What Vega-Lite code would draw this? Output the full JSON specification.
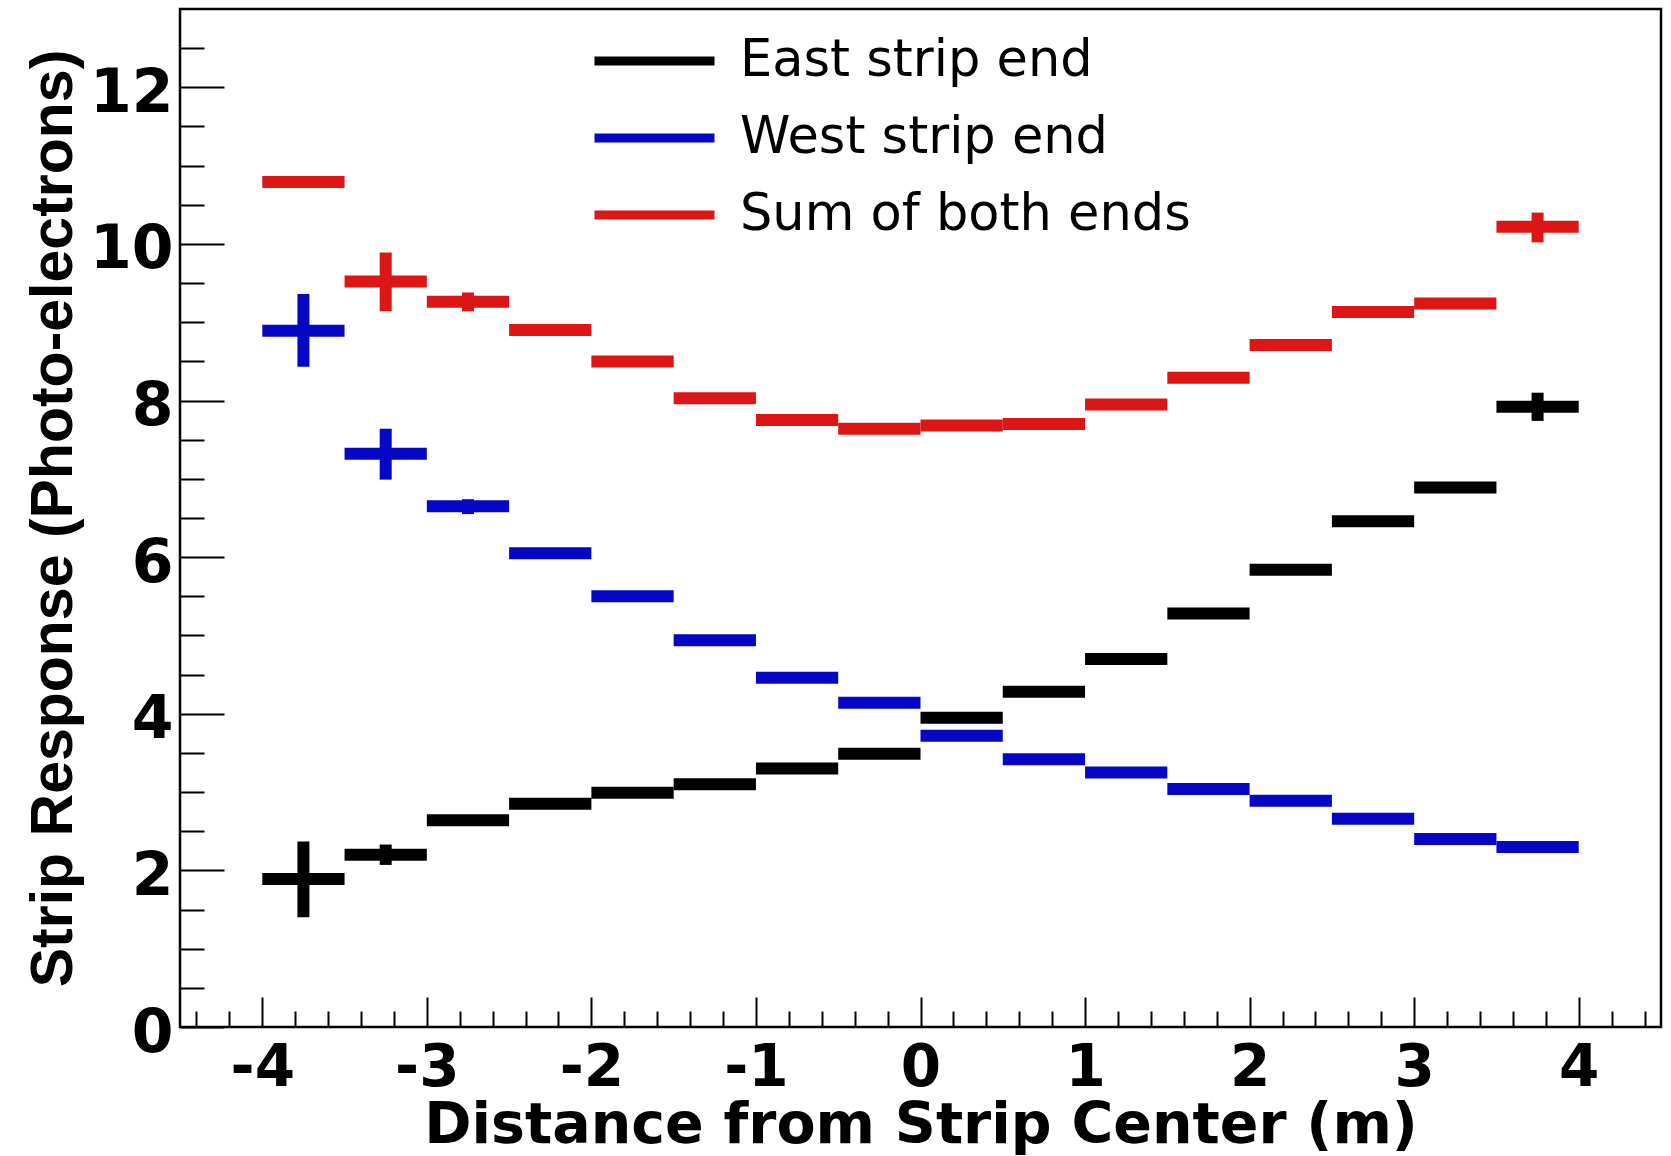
{
  "$schema": "https://vega.github.io/schema/vega-lite/v6.json",
  "autosize": {"type": "none"},
  "padding": {"left": 180, "top": 9, "right": 10, "bottom": 129},
  "width": 1481,
  "height": 1018,
  "background": "white",
  "config": {
    "view": {"stroke": "black", "strokeWidth": 2.5},
    "axis": {"grid": false, "domain": false, "tickColor": "black", "tickWidth": 2, "labelColor": "black", "titleColor": "black"}
  },
  "data": {
    "values": [
      {"s": "East strip end", "x": -3.75, "x1": -4.0, "x2": -3.5, "y": 1.89, "lo": 1.40, "hi": 2.37},
      {"s": "East strip end", "x": -3.25, "x1": -3.5, "x2": -3.0, "y": 2.20, "lo": 2.07, "hi": 2.33},
      {"s": "East strip end", "x": -2.75, "x1": -3.0, "x2": -2.5, "y": 2.64, "lo": 2.64, "hi": 2.64},
      {"s": "East strip end", "x": -2.25, "x1": -2.5, "x2": -2.0, "y": 2.85, "lo": 2.85, "hi": 2.85},
      {"s": "East strip end", "x": -1.75, "x1": -2.0, "x2": -1.5, "y": 2.99, "lo": 2.99, "hi": 2.99},
      {"s": "East strip end", "x": -1.25, "x1": -1.5, "x2": -1.0, "y": 3.10, "lo": 3.10, "hi": 3.10},
      {"s": "East strip end", "x": -0.75, "x1": -1.0, "x2": -0.5, "y": 3.30, "lo": 3.30, "hi": 3.30},
      {"s": "East strip end", "x": -0.25, "x1": -0.5, "x2": 0.0, "y": 3.49, "lo": 3.49, "hi": 3.49},
      {"s": "East strip end", "x": 0.25, "x1": 0.0, "x2": 0.5, "y": 3.95, "lo": 3.95, "hi": 3.95},
      {"s": "East strip end", "x": 0.75, "x1": 0.5, "x2": 1.0, "y": 4.28, "lo": 4.28, "hi": 4.28},
      {"s": "East strip end", "x": 1.25, "x1": 1.0, "x2": 1.5, "y": 4.70, "lo": 4.70, "hi": 4.70},
      {"s": "East strip end", "x": 1.75, "x1": 1.5, "x2": 2.0, "y": 5.28, "lo": 5.28, "hi": 5.28},
      {"s": "East strip end", "x": 2.25, "x1": 2.0, "x2": 2.5, "y": 5.84, "lo": 5.84, "hi": 5.84},
      {"s": "East strip end", "x": 2.75, "x1": 2.5, "x2": 3.0, "y": 6.46, "lo": 6.46, "hi": 6.46},
      {"s": "East strip end", "x": 3.25, "x1": 3.0, "x2": 3.5, "y": 6.89, "lo": 6.89, "hi": 6.89},
      {"s": "East strip end", "x": 3.75, "x1": 3.5, "x2": 4.0, "y": 7.92, "lo": 7.74, "hi": 8.10},
      {"s": "West strip end", "x": -3.75, "x1": -4.0, "x2": -3.5, "y": 8.89, "lo": 8.43, "hi": 9.36},
      {"s": "West strip end", "x": -3.25, "x1": -3.5, "x2": -3.0, "y": 7.32, "lo": 6.99, "hi": 7.64},
      {"s": "West strip end", "x": -2.75, "x1": -3.0, "x2": -2.5, "y": 6.65, "lo": 6.55, "hi": 6.74},
      {"s": "West strip end", "x": -2.25, "x1": -2.5, "x2": -2.0, "y": 6.05, "lo": 6.05, "hi": 6.05},
      {"s": "West strip end", "x": -1.75, "x1": -2.0, "x2": -1.5, "y": 5.50, "lo": 5.50, "hi": 5.50},
      {"s": "West strip end", "x": -1.25, "x1": -1.5, "x2": -1.0, "y": 4.94, "lo": 4.94, "hi": 4.94},
      {"s": "West strip end", "x": -0.75, "x1": -1.0, "x2": -0.5, "y": 4.46, "lo": 4.46, "hi": 4.46},
      {"s": "West strip end", "x": -0.25, "x1": -0.5, "x2": 0.0, "y": 4.14, "lo": 4.14, "hi": 4.14},
      {"s": "West strip end", "x": 0.25, "x1": 0.0, "x2": 0.5, "y": 3.72, "lo": 3.72, "hi": 3.72},
      {"s": "West strip end", "x": 0.75, "x1": 0.5, "x2": 1.0, "y": 3.42, "lo": 3.42, "hi": 3.42},
      {"s": "West strip end", "x": 1.25, "x1": 1.0, "x2": 1.5, "y": 3.25, "lo": 3.25, "hi": 3.25},
      {"s": "West strip end", "x": 1.75, "x1": 1.5, "x2": 2.0, "y": 3.04, "lo": 3.04, "hi": 3.04},
      {"s": "West strip end", "x": 2.25, "x1": 2.0, "x2": 2.5, "y": 2.89, "lo": 2.89, "hi": 2.89},
      {"s": "West strip end", "x": 2.75, "x1": 2.5, "x2": 3.0, "y": 2.66, "lo": 2.66, "hi": 2.66},
      {"s": "West strip end", "x": 3.25, "x1": 3.0, "x2": 3.5, "y": 2.40, "lo": 2.40, "hi": 2.40},
      {"s": "West strip end", "x": 3.75, "x1": 3.5, "x2": 4.0, "y": 2.30, "lo": 2.30, "hi": 2.30},
      {"s": "Sum of both ends", "x": -3.75, "x1": -4.0, "x2": -3.5, "y": 10.79, "lo": 10.79, "hi": 10.79},
      {"s": "Sum of both ends", "x": -3.25, "x1": -3.5, "x2": -3.0, "y": 9.52, "lo": 9.14, "hi": 9.89},
      {"s": "Sum of both ends", "x": -2.75, "x1": -3.0, "x2": -2.5, "y": 9.26, "lo": 9.14, "hi": 9.38},
      {"s": "Sum of both ends", "x": -2.25, "x1": -2.5, "x2": -2.0, "y": 8.90, "lo": 8.90, "hi": 8.90},
      {"s": "Sum of both ends", "x": -1.75, "x1": -2.0, "x2": -1.5, "y": 8.50, "lo": 8.50, "hi": 8.50},
      {"s": "Sum of both ends", "x": -1.25, "x1": -1.5, "x2": -1.0, "y": 8.03, "lo": 8.03, "hi": 8.03},
      {"s": "Sum of both ends", "x": -0.75, "x1": -1.0, "x2": -0.5, "y": 7.75, "lo": 7.75, "hi": 7.75},
      {"s": "Sum of both ends", "x": -0.25, "x1": -0.5, "x2": 0.0, "y": 7.64, "lo": 7.64, "hi": 7.64},
      {"s": "Sum of both ends", "x": 0.25, "x1": 0.0, "x2": 0.5, "y": 7.68, "lo": 7.68, "hi": 7.68},
      {"s": "Sum of both ends", "x": 0.75, "x1": 0.5, "x2": 1.0, "y": 7.70, "lo": 7.70, "hi": 7.70},
      {"s": "Sum of both ends", "x": 1.25, "x1": 1.0, "x2": 1.5, "y": 7.95, "lo": 7.95, "hi": 7.95},
      {"s": "Sum of both ends", "x": 1.75, "x1": 1.5, "x2": 2.0, "y": 8.29, "lo": 8.29, "hi": 8.29},
      {"s": "Sum of both ends", "x": 2.25, "x1": 2.0, "x2": 2.5, "y": 8.71, "lo": 8.71, "hi": 8.71},
      {"s": "Sum of both ends", "x": 2.75, "x1": 2.5, "x2": 3.0, "y": 9.13, "lo": 9.13, "hi": 9.13},
      {"s": "Sum of both ends", "x": 3.25, "x1": 3.0, "x2": 3.5, "y": 9.24, "lo": 9.24, "hi": 9.24},
      {"s": "Sum of both ends", "x": 3.75, "x1": 3.5, "x2": 4.0, "y": 10.22, "lo": 10.02, "hi": 10.40}
    ]
  },
  "layer": [
    {
      "mark": {"type": "rule", "strokeWidth": 12, "strokeCap": "butt"},
      "encoding": {
        "x": {
          "field": "x1", "type": "quantitative",
          "scale": {"domain": [-4.5, 4.5], "nice": false, "zero": false},
          "axis": {
            "orient": "bottom",
            "values": [-4, -3, -2, -1, 0, 1, 2, 3, 4],
            "tickSize": -30,
            "labelPadding": 42,
            "labelExpr": "'' + datum.value",
            "labelFont": "DejaVu Sans", "labelFontWeight": "bold", "labelFontSize": 58,
            "labelFlush": false, "labelOverlap": false,
            "title": "Distance from Strip Center (m)",
            "titleFont": "DejaVu Sans", "titleFontWeight": "bold", "titleFontSize": 57,
            "titlePadding": 0
          }
        },
        "x2": {"field": "x2"},
        "y": {
          "field": "y", "type": "quantitative",
          "scale": {"domain": [0, 13], "nice": false, "zero": false},
          "axis": {
            "orient": "left",
            "values": [0, 2, 4, 6, 8, 10, 12],
            "tickSize": -44,
            "labelPadding": 51,
            "labelOffset": 6,
            "labelExpr": "'' + datum.value",
            "labelFont": "DejaVu Sans", "labelFontWeight": "bold", "labelFontSize": 60,
            "labelFlush": false, "labelOverlap": false,
            "title": "Strip Response (Photo-electrons)",
            "titleFont": "Liberation Sans", "titleFontWeight": "bold", "titleFontSize": 59,
            "titlePadding": 6
          }
        },
        "color": {
          "field": "s", "type": "nominal",
          "scale": {"domain": ["East strip end", "West strip end", "Sum of both ends"], "range": ["#000000", "#0606c6", "#dc1515"]},
          "legend": {
            "orient": "none", "legendX": 440, "legendY": 17.5,
            "title": null, "padding": 0,
            "symbolType": "M-2,0H2", "symbolSize": 3600, "symbolStrokeWidth": 9,
            "labelFont": "DejaVu Sans", "labelFontSize": 51, "labelColor": "black",
            "labelOffset": 51, "rowPadding": 17, "labelLimit": 0
          }
        }
      }
    },
    {
      "mark": {"type": "rule", "strokeWidth": 12, "strokeCap": "butt"},
      "encoding": {
        "x": {
          "field": "x", "type": "quantitative",
          "axis": {
            "orient": "bottom",
            "values": [-4.4, -4.2, -3.8, -3.6, -3.4, -3.2, -2.8, -2.6, -2.4, -2.2, -1.8, -1.6, -1.4, -1.2, -0.8, -0.6, -0.4, -0.2, 0.2, 0.4, 0.6, 0.8, 1.2, 1.4, 1.6, 1.8, 2.2, 2.4, 2.6, 2.8, 3.2, 3.4, 3.6, 3.8, 4.2, 4.4],
            "tickSize": -16, "labels": false, "title": null
          }
        },
        "y": {
          "field": "lo", "type": "quantitative",
          "axis": {
            "orient": "left",
            "values": [0.5, 1, 1.5, 2.5, 3, 3.5, 4.5, 5, 5.5, 6.5, 7, 7.5, 8.5, 9, 9.5, 10.5, 11, 11.5, 12.5],
            "tickSize": -24, "labels": false, "title": null
          }
        },
        "y2": {"field": "hi"},
        "color": {"field": "s", "type": "nominal"}
      }
    }
  ],
  "resolve": {"axis": {"x": "independent", "y": "independent"}}
}
